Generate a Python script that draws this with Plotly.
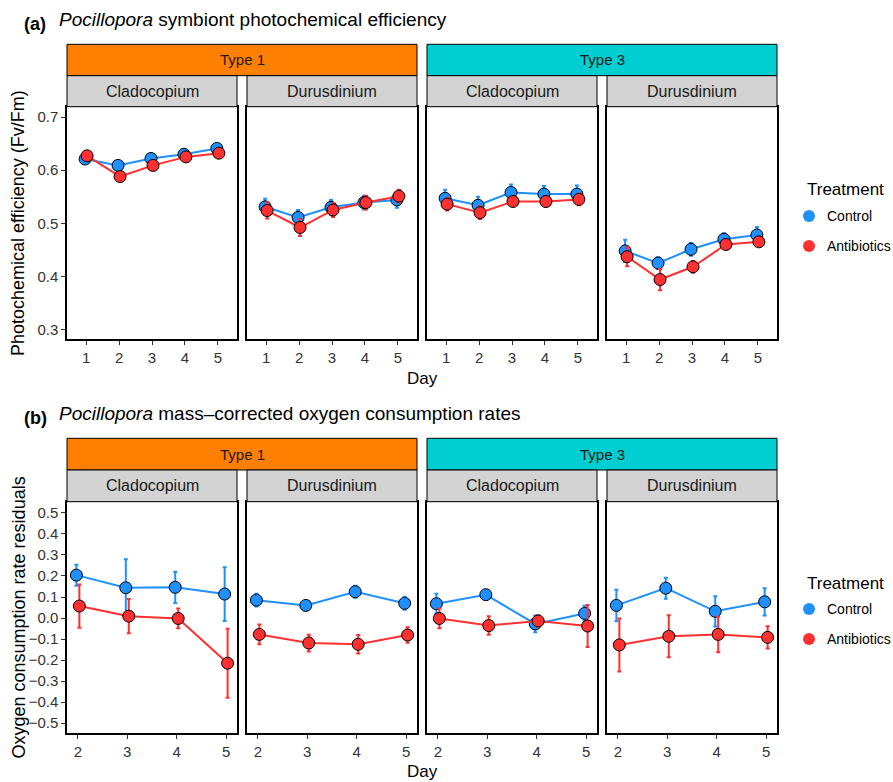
import plotly.graph_objects as go

W, H = 893, 782

# ---------------- data ----------------
days_a = [1, 2, 3, 4, 5]
days_b = [2, 3, 4, 5]
types = ["Type 1", "Type 1", "Type 3", "Type 3"]
symbionts = ["Cladocopium", "Durusdinium", "Cladocopium", "Durusdinium"]
treatments = ["Control", "Antibiotics"]

# (a) photochemical efficiency Fv/Fm: mean and SE per panel
fv_control = [
    [0.621, 0.609, 0.622, 0.630, 0.641],
    [0.531, 0.511, 0.530, 0.539, 0.544],
    [0.547, 0.534, 0.558, 0.555, 0.555],
    [0.448, 0.425, 0.451, 0.470, 0.478],
]
fv_control_se = [
    [0.004, 0.005, 0.004, 0.004, 0.004],
    [0.015, 0.014, 0.014, 0.013, 0.015],
    [0.016, 0.016, 0.015, 0.015, 0.016],
    [0.021, 0.011, 0.012, 0.011, 0.015],
]
fv_antibiotics = [
    [0.627, 0.588, 0.609, 0.625, 0.632],
    [0.524, 0.492, 0.525, 0.539, 0.551],
    [0.536, 0.520, 0.541, 0.541, 0.545],
    [0.437, 0.394, 0.418, 0.460, 0.465],
]
fv_antibiotics_se = [
    [0.004, 0.005, 0.004, 0.004, 0.004],
    [0.015, 0.016, 0.013, 0.013, 0.012],
    [0.012, 0.012, 0.007, 0.010, 0.011],
    [0.018, 0.020, 0.011, 0.006, 0.005],
]

# (b) oxygen consumption rate residuals: mean and SE per panel
oc_control = [
    [0.204, 0.144, 0.146, 0.114],
    [0.085, 0.060, 0.125, 0.070],
    [0.068, 0.111, -0.028, 0.022],
    [0.060, 0.142, 0.032, 0.077],
]
oc_control_se = [
    [0.050, 0.136, 0.074, 0.128],
    [0.030, 0.010, 0.028, 0.031],
    [0.047, 0.015, 0.040, 0.036],
    [0.075, 0.050, 0.072, 0.065],
]
oc_antibiotics = [
    [0.057, 0.009, -0.002, -0.215],
    [-0.078, -0.119, -0.125, -0.081],
    [-0.002, -0.036, -0.014, -0.038],
    [-0.128, -0.087, -0.078, -0.092],
]
oc_antibiotics_se = [
    [0.103, 0.081, 0.047, 0.164],
    [0.047, 0.040, 0.044, 0.037],
    [0.047, 0.044, 0.027, 0.100],
    [0.126, 0.100, 0.085, 0.053],
]

yticks_a = [0.3, 0.4, 0.5, 0.6, 0.7]
yticks_b = [-0.5, -0.4, -0.3, -0.2, -0.1, 0.0, 0.1, 0.2, 0.3, 0.4, 0.5]

# ---------------- style ----------------
FONT = "Liberation Sans, Arial, Helvetica, sans-serif"
C_CTRL = "#1E90FF"
C_ANTI = "#FF3030"
C_T1 = "#FF7F00"
C_T3 = "#00CED1"
C_STRIP = "#D3D3D3"
DODGE = 0.03

panel_x = [(67, 237), (247, 417), (427, 597), (607, 777)]
rows = [
    dict(plot=(107, 339), strip1=(44.3, 75.7), strip2=(75.7, 106.7), title_y=20, tag_y=24,
         xrange=[0.42, 5.58], yrange=[0.282, 0.719], yticks=yticks_a, days=days_a,
         ctrl=fv_control, ctrl_se=fv_control_se, anti=fv_antibiotics, anti_se=fv_antibiotics_se,
         title="<i>Pocillopora</i> symbiont photochemical efficiency", tag="(a)",
         ytitle="Photochemical efficiency (Fv/Fm)", day_y=378, leg_y=(190, 216, 246)),
    dict(plot=(502, 733), strip1=(438.3, 470), strip2=(470, 501.7), title_y=413, tag_y=418,
         xrange=[1.78, 5.22], yrange=[-0.547, 0.552], yticks=yticks_b, days=days_b,
         ctrl=oc_control, ctrl_se=oc_control_se, anti=oc_antibiotics, anti_se=oc_antibiotics_se,
         title="<i>Pocillopora</i> mass\u2013corrected oxygen consumption rates", tag="(b)",
         ytitle="Oxygen consumption rate residuals", day_y=771, leg_y=(583, 609, 639)),
]


def px(x):
    return x / W


def py(y):
    return 1 - y / H


fig = go.Figure()
shapes = []
annotations = []
layout_axes = {}

ax = 0
for r, row in enumerate(rows):
    # title
    annotations.append(dict(x=px(22), y=py(row["tag_y"]), xref="paper", yref="paper", text="<b>" + row["tag"] + "</b>",
                            showarrow=False, xanchor="left", yanchor="middle", font=dict(size=18, color="black")))
    annotations.append(dict(x=px(57), y=py(row["title_y"]), xref="paper", yref="paper", text=row["title"],
                            showarrow=False, xanchor="left", yanchor="middle", font=dict(size=19, color="black")))
    # y title
    annotations.append(dict(x=px(18), y=py((row["plot"][0] + row["plot"][1]) / 2), xref="paper", yref="paper",
                            text=row["ytitle"], textangle=-90, showarrow=False, xanchor="center", yanchor="middle",
                            font=dict(size=18, color="black")))
    # x title
    annotations.append(dict(x=px((67 + 777) / 2), y=py(row["day_y"]), xref="paper", yref="paper", text="Day",
                            showarrow=False, xanchor="center", yanchor="middle", font=dict(size=17, color="black")))
    # type strips
    for k, (tname, col) in enumerate([("Type 1", C_T1), ("Type 3", C_T3)]):
        x0 = panel_x[2 * k][0]
        x1 = panel_x[2 * k + 1][1]
        y0, y1 = row["strip1"]
        shapes.append(dict(type="rect", xref="paper", yref="paper", x0=px(x0), x1=px(x1), y0=py(y1), y1=py(y0),
                           fillcolor=col, line=dict(color="black", width=1), layer="above"))
        annotations.append(dict(x=px((x0 + x1) / 2), y=py((y0 + y1) / 2), xref="paper", yref="paper", text=tname,
                                showarrow=False, xanchor="center", yanchor="middle", font=dict(size=15, color="#1A1A1A")))
    # legend
    ly = row["leg_y"]
    annotations.append(dict(x=px(805), y=py(ly[0]), xref="paper", yref="paper", text="Treatment", showarrow=False,
                            xanchor="left", yanchor="middle", font=dict(size=17, color="black")))
    for name, col, yy in [("Control", C_CTRL, ly[1]), ("Antibiotics", C_ANTI, ly[2])]:
        shapes.append(dict(type="circle", xref="paper", yref="paper", x0=px(809 - 6), x1=px(809 + 6),
                           y0=py(yy + 6), y1=py(yy - 6), fillcolor=col, line=dict(width=0)))
        annotations.append(dict(x=px(825), y=py(yy), xref="paper", yref="paper", text=name, showarrow=False,
                                xanchor="left", yanchor="middle", font=dict(size=14, color="black")))

    for p in range(4):
        ax += 1
        xa = "x" if ax == 1 else f"x{ax}"
        ya = "y" if ax == 1 else f"y{ax}"
        x0, x1 = panel_x[p]
        y0, y1 = row["plot"]
        # sub strip
        s0, s1 = row["strip2"]
        shapes.append(dict(type="rect", xref="paper", yref="paper", x0=px(x0), x1=px(x1), y0=py(s1), y1=py(s0),
                           fillcolor=C_STRIP, line=dict(color="black", width=1), layer="above"))
        annotations.append(dict(x=px((x0 + x1) / 2), y=py((s0 + s1) / 2), xref="paper", yref="paper",
                                text=symbionts[p], showarrow=False, xanchor="center", yanchor="middle",
                                font=dict(size=16, color="#1A1A1A")))
        days = row["days"]
        for tname, col, vals, se, off in [("Control", C_CTRL, row["ctrl"][p], row["ctrl_se"][p], -DODGE),
                                          ("Antibiotics", C_ANTI, row["anti"][p], row["anti_se"][p], DODGE)]:
            fig.add_trace(go.Scatter(
                x=[d + off for d in days], y=vals, mode="lines+markers", name=tname, showlegend=False,
                xaxis=xa, yaxis=ya,
                line=dict(color=col, width=2),
                marker=dict(size=12, color=col, line=dict(color="black", width=1)),
                error_y=dict(type="data", array=se, visible=True, color=col, thickness=2, width=2),
            ))
        key = "" if ax == 1 else str(ax)
        layout_axes["xaxis" + key] = dict(
            domain=[px(x0), px(x1)], anchor=ya, range=row["xrange"], tickvals=days,
            ticktext=[str(d) for d in days], ticks="outside", ticklen=4, tickcolor="#333333", tickwidth=1,
            showline=True, linecolor="black", linewidth=1.5, mirror=True, showgrid=False, zeroline=False,
            tickfont=dict(size=15, color="#333333"), fixedrange=True)
        first = p == 0
        layout_axes["yaxis" + key] = dict(
            domain=[py(y1), py(y0)], anchor=xa, range=row["yrange"], tickvals=row["yticks"],
            ticktext=[("%.1f" % v).replace("-", "\u2212") for v in row["yticks"]] if first else None,
            showticklabels=first, ticks="outside" if first else "", ticklen=4, tickcolor="#333333", tickwidth=1,
            showline=True, linecolor="black", linewidth=1.5, mirror=True, showgrid=False, zeroline=False,
            tickfont=dict(size=15, color="#333333"), fixedrange=True)

fig.update_layout(
    width=W, height=H, autosize=False,
    margin=dict(l=0, r=0, t=0, b=0),
    paper_bgcolor="white", plot_bgcolor="white",
    font=dict(family=FONT, color="black"),
    shapes=shapes, annotations=annotations, showlegend=False,
    **layout_axes,
)

fig.write_html(
    "out.html",
    config={"displayModeBar": False},
    post_script="document.body.style.margin='0px';document.body.style.overflow='hidden';",
)
